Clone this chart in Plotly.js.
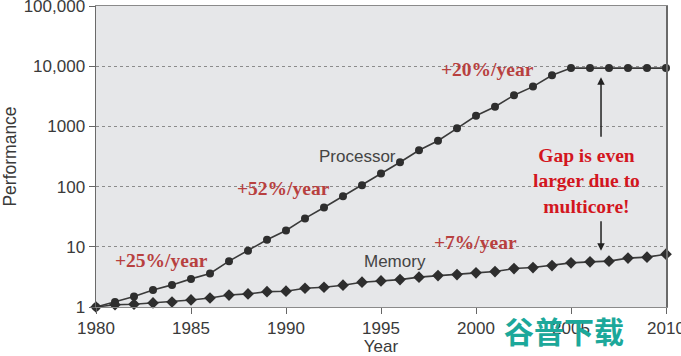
<!DOCTYPE html>
<html>
<head>
<meta charset="utf-8">
<script src="https://cdn.plot.ly/plotly-3.0.1.min.js"></script>
<style>html,body{margin:0;padding:0;background:#fff;overflow:hidden;}#chart{width:681px;height:356px;}</style>
</head>
<body>
<div id="chart"></div>
<script>
const years = [1980,1981,1982,1983,1984,1985,1986,1987,1988,1989,1990,1991,1992,1993,1994,1995,1996,1997,1998,1999,2000,2001,2002,2003,2004,2005,2006,2007,2008,2009,2010];
const processor = [1,1.21,1.49,1.92,2.33,2.93,3.6,5.78,8.6,13.1,18.7,29.6,45,69,105,165,254,402,577,928,1500,2120,3300,4580,7080,9300,9300,9300,9300,9300,9300];
const memory = [1,1.09,1.11,1.17,1.21,1.31,1.41,1.58,1.65,1.8,1.83,2.05,2.13,2.3,2.58,2.71,2.85,3.13,3.33,3.46,3.69,3.88,4.35,4.52,4.88,5.41,5.62,5.78,6.49,6.73,7.54];
const yTickVals = [1,10,100,1000,10000,100000];
const yTickText = ["1","10","100","1000","10,000","100,000"];
const xTickVals = [1980,1985,1990,1995,2000,2005,2010];
const xTickText = ["1980","1985","1990","1995","2000","2005","2010"];
const seriesNames = ["Processor","Memory"];
const rateLabels = ["+25%/year","+52%/year","+20%/year","+7%/year"];
const gapLabel = "Gap is even<br>larger due to<br>multicore!";

const lineColor = "#3a3a3a";
const sans = "Liberation Sans, Arial, sans-serif";
const serif = "Liberation Serif, Times New Roman, serif";
const rateColor = "#b8403f";
const gapColor = "#d3161e";

const traces = [
  {x: years, y: processor, name: seriesNames[0], type: "scatter", mode: "lines+markers",
   line: {color: lineColor, width: 1.6}, marker: {symbol: "circle", size: 8, color: "#2e2e2e"}, cliponaxis: false},
  {x: years, y: memory, name: seriesNames[1], type: "scatter", mode: "lines+markers",
   line: {color: lineColor, width: 1.6}, marker: {symbol: "diamond", size: 9, color: "#2e2e2e"}, cliponaxis: false}
];

function rate(text, x, y) {
  return {text: text, x: x, y: y, xref: "x", yref: "y", showarrow: false,
    font: {family: serif, size: 19.5, color: rateColor, weight: "bold"}, xanchor: "center", yanchor: "middle"};
}
function label(text, x, y) {
  return {text: text, x: x, y: y, xref: "x", yref: "y", showarrow: false,
    font: {family: sans, size: 17, color: "#444"}, xanchor: "center", yanchor: "middle"};
}

const annotations = [
  rate(rateLabels[0], 1983.47, 0.767),
  rate(rateLabels[1], 1989.87, 1.967),
  rate(rateLabels[2], 2000.58, 3.95),
  rate(rateLabels[3], 1999.97, 1.067),
  label(seriesNames[0], 1993.74, 2.5),
  label(seriesNames[1], 1995.74, 0.75),
  {text: gapLabel, x: 2005.84, y: 2.1, xref: "x", yref: "y", showarrow: false,
   font: {family: serif, size: 19.5, color: gapColor, weight: "bold"}, align: "center", xanchor: "center", yanchor: "middle"},
  {text: "", x: 2006.58, y: 3.817, xref: "x", yref: "y", showarrow: true, ax: 0, ay: 61,
   arrowhead: 2, arrowsize: 1, arrowwidth: 1.5, arrowcolor: "#222"},
  {text: "", x: 2006.58, y: 0.933, xref: "x", yref: "y", showarrow: true, ax: 0, ay: -31,
   arrowhead: 2, arrowsize: 1, arrowwidth: 1.5, arrowcolor: "#222"},
  {text: "谷普下载", x: (564 - 96) / 570, y: (307 - 330) / 301, xref: "paper", yref: "paper", showarrow: false,
   font: {family: "Noto Sans CJK SC", size: 30, color: "#1ca89a", weight: "bold"}, xanchor: "center", yanchor: "middle"}
];

const layout = {
  width: 681, height: 356,
  margin: {l: 96, r: 15, t: 6, b: 49},
  paper_bgcolor: "#ffffff",
  plot_bgcolor: "#e6e7e9",
  showlegend: false,
  xaxis: {
    range: [1980, 2010], tickvals: xTickVals, ticktext: xTickText,
    showgrid: false, zeroline: false, showline: true, linecolor: "#8a8a8a", linewidth: 1, mirror: true,
    ticks: "outside", ticklen: 6, tickcolor: "#666", tickwidth: 1,
    tickfont: {family: sans, size: 17, color: "#3a3a3a"}, ticklabeloverflow: "allow",
    title: {text: "Year", font: {family: sans, size: 17, color: "#3a3a3a"}, standoff: 11},
    automargin: false
  },
  yaxis: {
    type: "log", range: [0, 5], tickvals: yTickVals, ticktext: yTickText,
    showgrid: true, gridcolor: "#8c8c8c", griddash: "dot", gridwidth: 1,
    zeroline: false, showline: true, linecolor: "#6a6a6a", linewidth: 1.5, mirror: true,
    ticks: "outside", ticklen: 6, tickcolor: "#666", tickwidth: 1,
    tickfont: {family: sans, size: 17, color: "#3a3a3a"}, ticklabeloverflow: "allow",
    title: {text: "Performance", font: {family: sans, size: 17.5, color: "#3a3a3a"}, standoff: 9},
    automargin: false
  },
  annotations: annotations
};

Plotly.newPlot("chart", traces, layout, {displayModeBar: false, staticPlot: true});
</script>
</body>
</html>
